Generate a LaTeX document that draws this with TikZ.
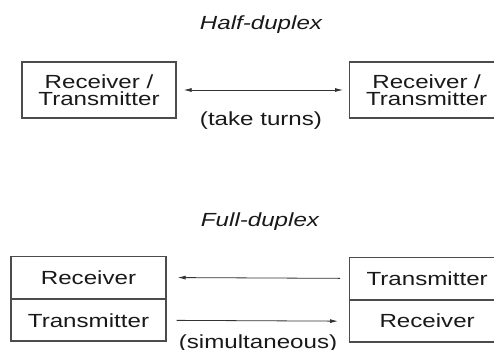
\documentclass[tikz,border=0pt]{standalone}
\usepackage{fontspec}
\setmainfont{Liberation Sans}[FakeStretch=1.27]
\usetikzlibrary{positioning,arrows.meta}

\begin{document}
\begin{tikzpicture}[x=1pt,y=1pt,
    txt/.style={text=black!90,font=\fontsize{19}{17}\selectfont},
    box/.style={txt,draw=black!70,line width=1.3pt,minimum width=154pt,inner sep=0pt,align=center},
    cell/.style={box,minimum width=155pt,minimum height=41.5pt},
    link/.style={draw=black!80,line width=0.8pt,-{Latex[length=8pt,width=4pt]}}]
\useasboundingbox (0,0) rectangle (494,349);
\clip (0,0) rectangle (494,349);

% half-duplex
\node[txt,font=\fontsize{19}{17}\selectfont\itshape] (halftitle) at (261,324) {Half-duplex};
\node[box,minimum height=56pt] (hl) at (99,259) {Receiver /\\Transmitter};
\node[box,minimum height=56pt,anchor=west] (hr) at (349,259) {Receiver /\\Transmitter};
\draw[link,{Latex[length=8pt,width=4pt]}-{Latex[length=8pt,width=4pt]},shorten <=7pt,shorten >=6pt] (hl.east) -- (hr.west);
\node[txt] (turns) at (261,228) {(take turns)};

% full-duplex
\node[txt,font=\fontsize{19}{17}\selectfont\itshape] (fulltitle) at (260,127) {Full-duplex};
\node[cell] (rx1) at (88.5,71.5) {Receiver};
\node[cell,below=0pt of rx1] (tx1) {Transmitter};
\node[cell,anchor=north west] (tx2) at (349,92) {Transmitter};
\node[cell,below=0pt of tx2] (rx2) {Receiver};
\draw[link,shorten <=9pt,shorten >=11pt] (tx2.west) -- (rx1.east);
\draw[link,shorten <=10pt,shorten >=11pt] (tx1.east) -- (rx2.west);
\node[txt,anchor=base] (simul) at (258,0.5) {(simultaneous)};
\end{tikzpicture}
\end{document}
